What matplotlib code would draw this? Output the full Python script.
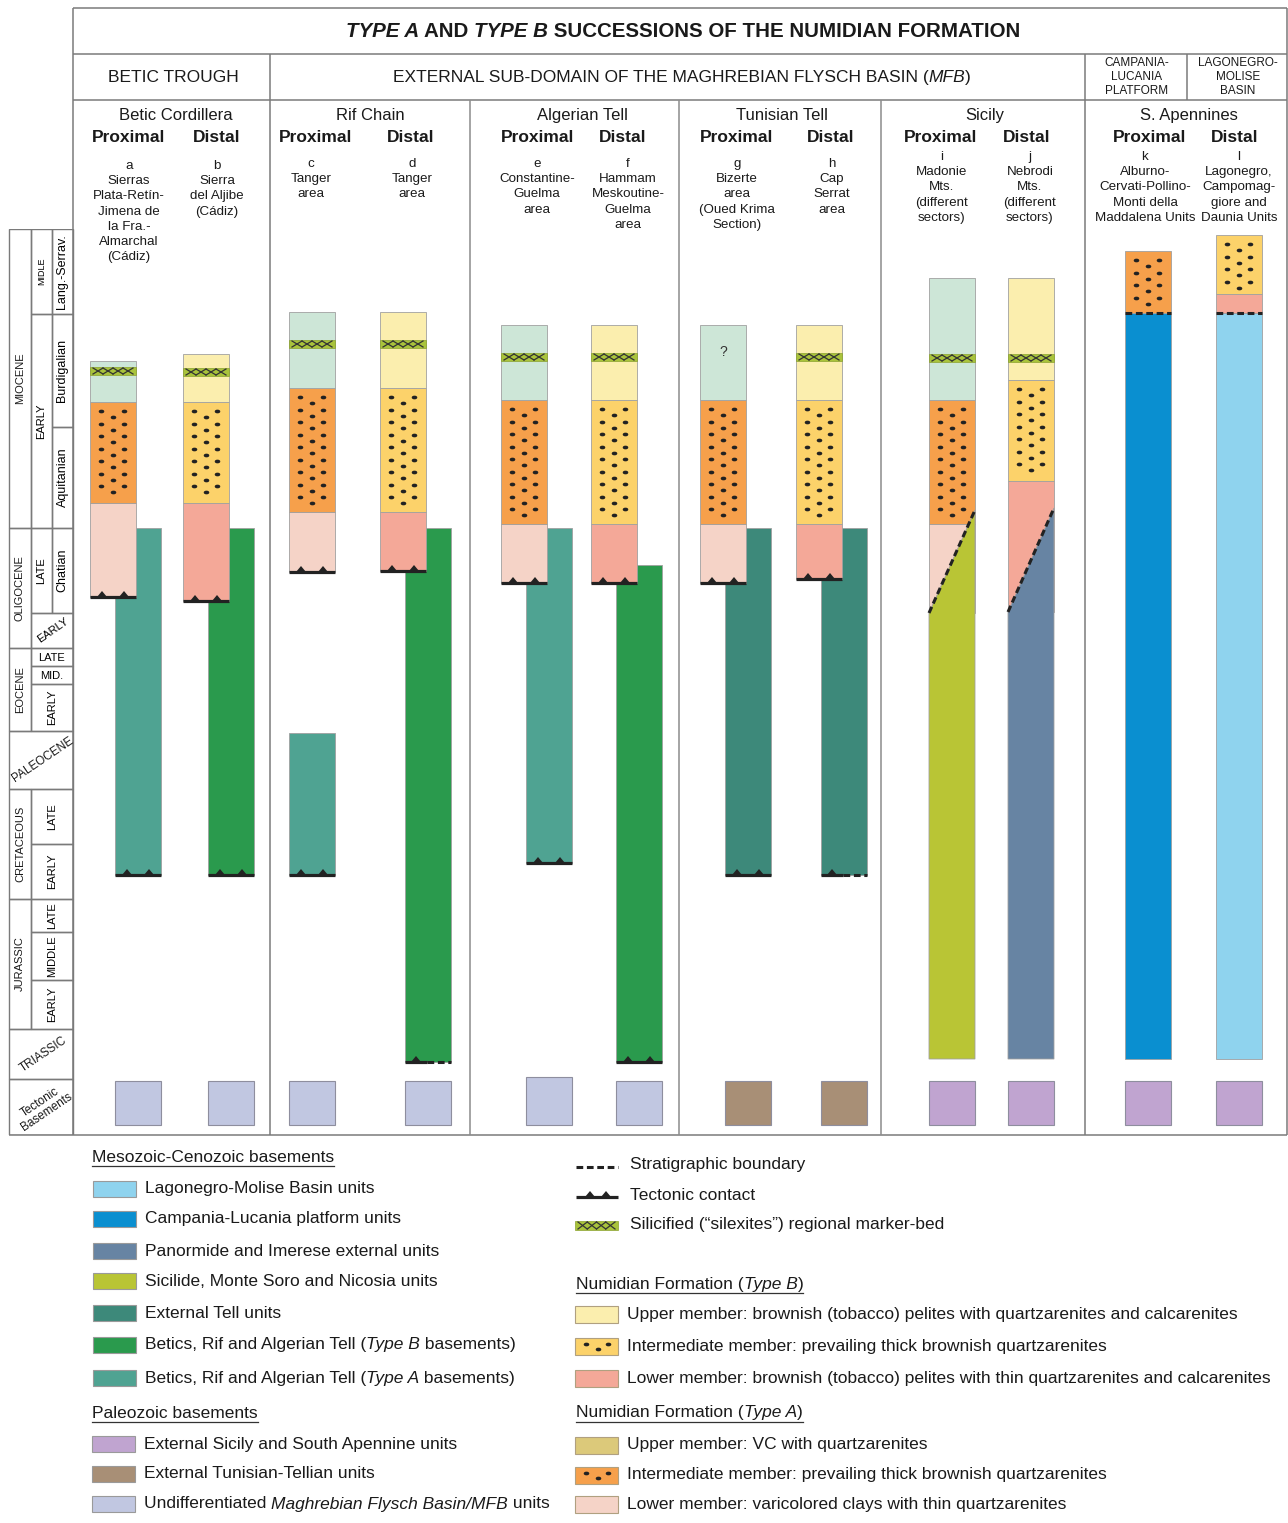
import matplotlib
matplotlib.use("Agg")
import matplotlib.pyplot as plt
from matplotlib.patches import Rectangle, Polygon
from matplotlib.path import Path
from matplotlib.transforms import Affine2D

plt.rcParams["font.family"] = ["Liberation Sans", "DejaVu Sans"]

# ---------------- data (depth units below the top of the Langhian-Serravallian) ----------------
# chronostratigraphic scale
epochs = ["MIOCENE", "OLIGOCENE", "EOCENE", "PALEOCENE", "CRETACEOUS", "JURASSIC", "TRIASSIC", "Tectonic\nBasements"]
epoch_top = [0, 299, 419, 502, 560, 670, 800, 850]
epoch_bottom = [299, 419, 502, 560, 670, 800, 850, 906]

sub_epochs = ["MIDLE", "EARLY", "LATE", "EARLY", "LATE", "MID.", "EARLY", "LATE", "EARLY", "LATE", "MIDDLE", "EARLY"]
sub_top = [0, 85, 299, 384, 419, 437, 455, 560, 615, 670, 703, 751]
sub_bottom = [85, 299, 384, 419, 437, 455, 502, 615, 670, 703, 751, 800]

stages = ["Lang.-Serrav.", "Burdigalian", "Aquitanian", "Chatian"]
stage_top = [0, 85, 198, 299]
stage_bottom = [85, 198, 299, 384]

# successions a-l
sections = ["a", "b", "c", "d", "e", "f", "g", "h", "i", "j", "k", "l"]
succession_type = ["A", "B", "A", "B", "A", "B", "A", "B", "A", "B", "A", "B"]
upper_top = [132, 125, 83, 83, 96, 96, 96, 96, 49, 49, None, None]
marker_top = [138, 139, 111, 111, 124, 124, None, 124, 125, 125, None, None]
inter_top = [173, 173, 159, 159, 171, 171, 171, 171, 171, 151, 22, 6]
lower_top = [274, 274, 283, 283, 295, 295, 295, 295, 295, 252, None, 65]
numidian_base = [368, 372, 343, 342, 354, 354, 354, 350, 384, 383, 84, 84]
base_contact = ["tectonic"] * 8 + ["diagonal"] * 2 + ["strat"] * 2

basement_kind = ["betic_a", "betic_b", "betic_a", "betic_b", "betic_a", "betic_b",
                 "ext_tell", "ext_tell", "sicilide", "panormide", "campania", "lagonegro"]
basement_top_left = [299, 299, 504, 299, 299, 336, 299, 299, 384, 383, 84, 84]
basement_top_right = [299, 299, 504, 299, 299, 336, 299, 299, 281, 279, 84, 84]
basement_bottom = [646, 646, 646, 833, 634, 833, 646, 646, 830, 830, 830, 830]
basement_contact = ["tectonic", "tectonic", "tectonic", "mixed", "tectonic", "tectonic",
                    "tectonic", "mixed", None, None, None, None]

paleozoic_kind = ["mfb"] * 6 + ["tunisian"] * 2 + ["sic_apen"] * 4
paleozoic_top = [852, 852, 852, 852, 848, 852, 852, 852, 852, 852, 852, 852]
paleozoic_bottom = [896] * 12

regions = ["Betic Cordillera", "Rif Chain", "Algerian Tell", "Tunisian Tell", "Sicily", "S. Apennines"]
section_desc = [
    ["a", "Sierras", "Plata-Retín-", "Jimena de", "la Fra.-", "Almarchal", "(Cádiz)"],
    ["b", "Sierra", "del Aljibe", "(Cádiz)"],
    ["c", "Tanger", "area"],
    ["d", "Tanger", "area"],
    ["e", "Constantine-", "Guelma", "area"],
    ["f", "Hammam", "Meskoutine-", "Guelma", "area"],
    ["g", "Bizerte", "area", "(Oued Krima", "Section)"],
    ["h", "Cap", "Serrat", "area"],
    ["i", "Madonie", "Mts.", "(different", "sectors)"],
    ["j", "Nebrodi", "Mts.", "(different", "sectors)"],
    ["k", "Alburno-", "Cervati-Pollino-", "Monti della", "Maddalena Units"],
    ["l", "Lagonegro,", "Campomag-", "giore and", "Daunia Units"],
]

# ---------------- layout / styles ----------------
W, H = 1288, 1523
bar_left = [90, 183, 289, 380, 501, 591, 700, 796, 929, 1008, 1125, 1216]
basement_shift = [25, 25, 0, 25, 25, 25, 25, 25, 0, 0, 0, 0]
BW = 46
region_x = [176, 370, 582, 782, 985, 1189]
prox_x = [129, 316, 538, 737, 941, 1150]
dist_x = [217, 411, 623, 831, 1027, 1235]
desc_x = [129, 217, 311, 412, 537, 628, 737, 832, 942, 1030, 1145, 1239]
desc_y0 = [166, 166, 164, 164, 164, 164, 164, 164, 157, 157, 157, 157]

colors = {
    "lagonegro": "#8fd3ee", "campania": "#0a8fd0", "panormide": "#6784a3",
    "sicilide": "#b9c535", "ext_tell": "#3d897a", "betic_b": "#2a9a4d",
    "betic_a": "#4fa392", "sic_apen": "#c0a4d0", "tunisian": "#a88f76",
    "mfb": "#c1c7e1",
}
upper_col = {"A": "#cde6d7", "B": "#fbeeae"}
inter_col = {"A": "#f6a04b", "B": "#fcd26a"}
lower_col = {"A": "#f5d3c7", "B": "#f4a898"}
LEG_UPPER_A = "#dcc97a"
SILEX = "#a9c33b"
FRAME = "#7a7a7a"
EDGE = "#a0a0a0"
INK = "#222222"

fig = plt.figure(figsize=(W / 100, H / 100), dpi=100)
ax = fig.add_axes([0, 0, 1, 1])
ax.set_xlim(0, W)
ax.set_ylim(H, 0)
ax.axis("off")
chart = fig.add_axes([0, 1 - 1135 / H, 1, 906 / H])
chart.set_xlim(0, W)
chart.set_ylim(906, 0)
chart.axis("off")
renderer = fig.canvas.get_renderer()


def text_width(s, **kw):
    t = ax.text(0, 0, s + "|", **kw)
    w1 = t.get_window_extent(renderer).width
    t.remove()
    t = ax.text(0, 0, "|", **kw)
    w2 = t.get_window_extent(renderer).width
    t.remove()
    return w1 - w2


def rich(x, y, parts, size, ha="left", weight="normal", underline=False):
    widths = [text_width(s, fontsize=size, fontweight=weight, fontstyle=st) for s, st in parts]
    total = sum(widths)
    cur = x - total / 2 if ha == "center" else x
    start = cur
    for (s, st), w in zip(parts, widths):
        ax.text(cur, y, s, fontsize=size, fontweight=weight, fontstyle=st,
                ha="left", va="center", color="#1a1a1a")
        cur += w
    if underline:
        ax.plot([start, start + total], [y + 9, y + 9], color="#333", lw=0.9)


# ---------------- frame and headers ----------------
def hline(y, x0, x1, c=FRAME, lw=1.1):
    ax.plot([x0, x1], [y, y], color=c, lw=lw, solid_capstyle="butt")


def vline(x, y0, y1, c=FRAME, lw=1.1):
    ax.plot([x, x], [y0, y1], color=c, lw=lw, solid_capstyle="butt")


hline(8, 73, 1287)
hline(54, 73, 1287)
hline(100, 73, 1287)
hline(1135, 9, 1287)
vline(73, 8, 1135)
vline(1287, 8, 1135)
vline(270, 54, 1135)
vline(1085, 54, 1135)
vline(1187, 54, 100)
for xv in [470, 679, 881]:
    vline(xv, 100, 1135, c="#8c8c8c")

rich(683, 31, [("TYPE A", "italic"), (" AND ", "normal"), ("TYPE B", "italic"),
               (" SUCCESSIONS OF THE NUMIDIAN FORMATION", "normal")], 14.8, ha="center", weight="bold")
rich(173, 77, [("BETIC TROUGH", "normal")], 12.5, ha="center")
rich(682, 77, [("EXTERNAL SUB-DOMAIN OF THE MAGHREBIAN FLYSCH BASIN (", "normal"), ("MFB", "italic"),
               (")", "normal")], 12.5, ha="center")
for k, s in enumerate(["CAMPANIA-", "LUCANIA", "PLATFORM"]):
    ax.text(1137, 63 + 14 * k, s, fontsize=8.5, ha="center", va="center", color="#1a1a1a")
for k, s in enumerate(["LAGONEGRO-", "MOLISE", "BASIN"]):
    ax.text(1238, 63 + 14 * k, s, fontsize=8.5, ha="center", va="center", color="#1a1a1a")

for name, rx, px, dx in zip(regions, region_x, prox_x, dist_x):
    ax.text(rx, 115, name, fontsize=12, ha="center", va="center", color="#1a1a1a")
    ax.text(px, 137, "Proximal", fontsize=12.5, fontweight="bold", ha="center", va="center", color="#1a1a1a")
    ax.text(dx, 137, "Distal", fontsize=12.5, fontweight="bold", ha="center", va="center", color="#1a1a1a")
for lines, x, y0 in zip(section_desc, desc_x, desc_y0):
    for k, s in enumerate(lines):
        ax.text(x, y0 + 15.2 * k, s, fontsize=9.6, ha="center", va="center", color="#1a1a1a")

# ---------------- chronostratigraphic scale ----------------
C0, C1, C2, C3 = 9, 31, 52, 73
full_rows = {"PALEOCENE", "TRIASSIC", "Tectonic\nBasements"}
for name, t, b in zip(epochs, epoch_top, epoch_bottom):
    if name in full_rows:
        chart.add_patch(Rectangle((C0, t), C3 - C0, b - t, fill=False, ec=FRAME, lw=1))
        chart.text((C0 + C3) / 2 + 2, (t + b) / 2, name, fontsize=8.5, rotation=34, ha="center",
                   va="center", color="#1a1a1a", linespacing=1.0)
    else:
        chart.add_patch(Rectangle((C0, t), C1 - C0, b - t, fill=False, ec=FRAME, lw=1))
        chart.text((C0 + C1) / 2, (t + b) / 2, name, fontsize=8, rotation=90, ha="center",
                   va="center", color="#1a1a1a")
for k, (name, t, b) in enumerate(zip(sub_epochs, sub_top, sub_bottom)):
    if k < 3:
        x0, x1 = C1, C2
    else:
        x0, x1 = C1, C3
    chart.add_patch(Rectangle((x0, t), x1 - x0, b - t, fill=False, ec=FRAME, lw=1))
    if name == "MIDLE":
        chart.text((x0 + x1) / 2, (t + b) / 2, name, fontsize=6.5, rotation=90, ha="center", va="center")
    elif k == 3:
        chart.text((x0 + x1) / 2 + 1, (t + b) / 2, name, fontsize=8, rotation=35, ha="center", va="center")
    elif k in (4, 5):
        chart.text((x0 + x1) / 2, (t + b) / 2 + 0.5, name, fontsize=8, ha="center", va="center")
    else:
        chart.text((x0 + x1) / 2, (t + b) / 2, name, fontsize=8, rotation=90, ha="center", va="center")
for name, t, b in zip(stages, stage_top, stage_bottom):
    chart.add_patch(Rectangle((C2, t), C3 - C2, b - t, fill=False, ec=FRAME, lw=1))
    chart.text((C2 + C3) / 2, (t + b) / 2, name, fontsize=9, rotation=90, ha="center", va="center")

# ---------------- columns ----------------
dot_marker = Path.unit_circle().transformed(Affine2D().scale(1.0, 0.55))


def dots(x0, top, bottom, target=chart, step=12.5):
    xs, ys = [], []
    y = top + 9
    while y < bottom - 10:
        xs += [x0 + 11, x0 + 34]
        ys += [y, y]
        xs.append(x0 + 23)
        ys.append(y + 6)
        y += step
    target.plot(xs, ys, ls="none", marker=dot_marker, ms=3.0, color=INK, zorder=6)


def silexite(x0, top, w=BW, h=8, target=chart):
    target.add_patch(Rectangle((x0, top), w, h, fc=SILEX, ec="#8aa12e", lw=0.5, zorder=6))
    cw = (w - 6) / 4
    for k in range(4):
        a = x0 + 3 + k * cw
        target.plot([a, a + cw], [top + 1, top + h - 1], color="#333", lw=0.9, zorder=7)
        target.plot([a, a + cw], [top + h - 1, top + 1], color="#333", lw=0.9, zorder=7)


def tectonic(x0, y, w=BW, teeth=(12, 34), target=chart):
    target.plot([x0, x0 + w], [y, y], color=INK, lw=2.3, solid_capstyle="butt", zorder=8)
    for t in teeth:
        target.add_patch(Polygon([(x0 + t - 5, y), (x0 + t, y - 6), (x0 + t + 5, y)],
                                 fc=INK, ec="none", zorder=8))


def strat(x0, x1, y, target=chart):
    target.plot([x0, x1], [y, y], color=INK, lw=2.2, ls=(0, (2.2, 1.2)), zorder=8)


for k in range(len(sections)):
    x0 = bar_left[k]
    st = succession_type[k]
    bx = x0 + basement_shift[k]
    # basement
    tl, tr, bb = basement_top_left[k], basement_top_right[k], basement_bottom[k]
    bcol = colors[basement_kind[k]]
    zb = 4 if base_contact[k] == "diagonal" else 1
    chart.add_patch(Polygon([(bx, bb), (bx + BW, bb), (bx + BW, tr), (bx, tl)], closed=True,
                            fc=bcol, ec=EDGE, lw=0.6, zorder=zb))
    if basement_contact[k] == "tectonic":
        tectonic(bx, bb)
    elif basement_contact[k] == "mixed":
        tectonic(bx, bb, w=22, teeth=(11,))
        strat(bx + 22, bx + BW, bb)
    # paleozoic basement
    chart.add_patch(Rectangle((bx, paleozoic_top[k]), BW, paleozoic_bottom[k] - paleozoic_top[k],
                              fc=colors[paleozoic_kind[k]], ec="#8e8e9e", lw=0.8, zorder=2))
    # Numidian members
    base = numidian_base[k]
    if lower_top[k] is not None:
        chart.add_patch(Rectangle((x0, lower_top[k]), BW, base - lower_top[k],
                                  fc=lower_col[st], ec=EDGE, lw=0.6, zorder=3))
    lt = lower_top[k] if lower_top[k] is not None else base
    chart.add_patch(Rectangle((x0, inter_top[k]), BW, lt - inter_top[k],
                              fc=inter_col[st], ec=EDGE, lw=0.6, zorder=3))
    dots(x0, inter_top[k], lt)
    if upper_top[k] is not None:
        chart.add_patch(Rectangle((x0, upper_top[k]), BW, inter_top[k] - upper_top[k],
                                  fc=upper_col[st], ec=EDGE, lw=0.6, zorder=3))
    if marker_top[k] is not None:
        silexite(x0, marker_top[k])
    if base_contact[k] == "tectonic":
        tectonic(x0, base)
    elif base_contact[k] == "strat":
        strat(x0, x0 + BW, base)
    else:
        chart.plot([bx, bx + BW], [tl, tr], color=INK, lw=2.2, ls=(0, (2.2, 1.2)), zorder=8)

# question mark in the Bizerte section
chart.text(bar_left[6] + 23, 123, "?", fontsize=10, ha="center", va="center", color="#333", zorder=6)

# ---------------- legend ----------------
meso_labels = [
    [("Lagonegro-Molise Basin units", "normal")],
    [("Campania-Lucania platform units", "normal")],
    [("Panormide and Imerese external units", "normal")],
    [("Sicilide, Monte Soro and Nicosia units", "normal")],
    [("External Tell units", "normal")],
    [("Betics, Rif and Algerian Tell (", "normal"), ("Type B", "italic"), (" basements)", "normal")],
    [("Betics, Rif and Algerian Tell (", "normal"), ("Type A", "italic"), (" basements)", "normal")],
]
meso_keys = ["lagonegro", "campania", "panormide", "sicilide", "ext_tell", "betic_b", "betic_a"]
paleo_labels = [
    [("External Sicily and South Apennine units", "normal")],
    [("External Tunisian-Tellian units", "normal")],
    [("Undifferentiated ", "normal"), ("Maghrebian Flysch Basin/MFB", "italic"), (" units", "normal")],
]
paleo_keys = ["sic_apen", "tunisian", "mfb"]
typeb_labels = ["Upper member: brownish (tobacco) pelites with quartzarenites and calcarenites",
                "Intermediate member: prevailing thick brownish quartzarenites",
                "Lower member: brownish (tobacco) pelites with thin quartzarenites and calcarenites"]
typea_labels = ["Upper member: VC with quartzarenites",
                "Intermediate member: prevailing thick brownish quartzarenites",
                "Lower member: varicolored clays with thin quartzarenites"]

LF = 12.5
rich(92, 1157, [("Mesozoic-Cenozoic basements", "normal")], LF, underline=True)
for key, lab, y in zip(meso_keys, meso_labels, [1189, 1219, 1251, 1281, 1313, 1345, 1378]):
    ax.add_patch(Rectangle((93, y - 8), 43, 16, fc=colors[key], ec="#9a9a9a", lw=0.8))
    rich(145, y, lab, LF)
rich(92, 1413, [("Paleozoic basements", "normal")], LF, underline=True)
for key, lab, y in zip(paleo_keys, paleo_labels, [1444, 1474, 1504]):
    ax.add_patch(Rectangle((92, y - 8), 43, 16, fc=colors[key], ec="#9a9a9a", lw=0.8))
    rich(144, y, lab, LF)

strat(576, 618, 1167, target=ax)
rich(630, 1165, [("Stratigraphic boundary", "normal")], LF)
tectonic(576, 1197, w=42, teeth=(14, 30), target=ax)
rich(630, 1195, [("Tectonic contact", "normal")], LF)
silexite(575, 1221, w=43, h=9, target=ax)
rich(630, 1225, [("Silicified (“silexites”) regional marker-bed", "normal")], LF)

rich(576, 1284, [("Numidian Formation (", "normal"), ("Type B", "italic"), (")", "normal")], LF, underline=True)
for k, (lab, y) in enumerate(zip(typeb_labels, [1314, 1346, 1378])):
    fc = [upper_col["B"], inter_col["B"], lower_col["B"]][k]
    ax.add_patch(Rectangle((575, y - 8.5), 43, 17, fc=fc, ec="#b0a080", lw=0.8))
    if k == 1:
        ax.plot([586, 598, 608], [y - 2, y + 3, y - 2], ls="none", marker=dot_marker, ms=3.0, color=INK)
    rich(627, y, [(lab, "normal")], LF)
rich(576, 1413, [("Numidian Formation (", "normal"), ("Type A", "italic"), (")", "normal")], LF, underline=True)
for k, (lab, y) in enumerate(zip(typea_labels, [1445, 1475, 1504])):
    fc = [LEG_UPPER_A, inter_col["A"], lower_col["A"]][k]
    ax.add_patch(Rectangle((575, y - 8.5), 43, 17, fc=fc, ec="#b0a080", lw=0.8))
    if k == 1:
        ax.plot([586, 598, 608], [y - 2, y + 3, y - 2], ls="none", marker=dot_marker, ms=3.0, color=INK)
    rich(627, y, [(lab, "normal")], LF)

fig.savefig("out.png", dpi=100)
